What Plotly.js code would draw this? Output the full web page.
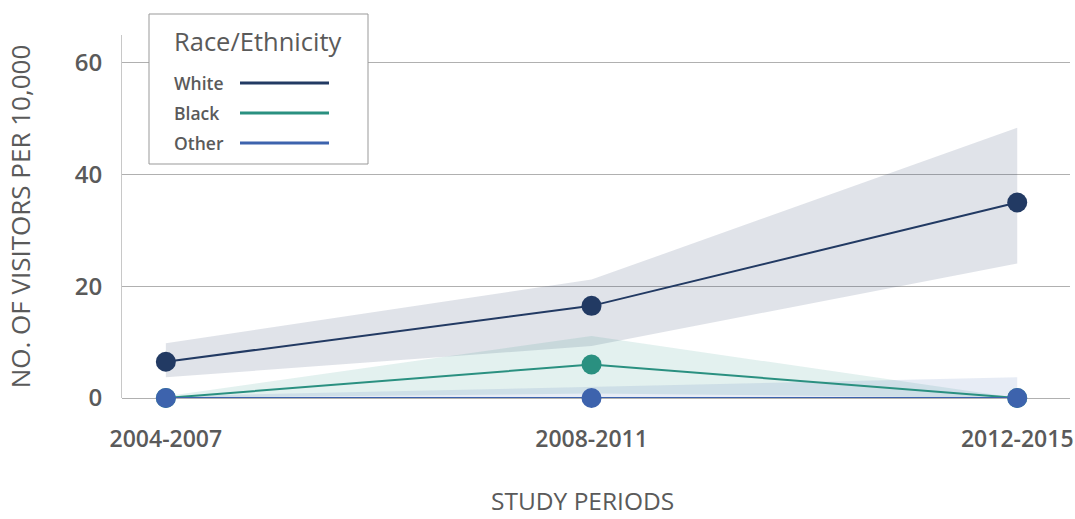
<!DOCTYPE html>
<html><head><meta charset="utf-8">
<script src="https://cdn.plot.ly/plotly-3.0.1.min.js"></script>
<style>html,body{margin:0;padding:0;background:#fff}#chart{width:1075px;height:519px}</style>
</head><body><div id="chart"></div>
<script>
const periods = ["2004-2007", "2008-2011", "2012-2015"];
const seriesNames = ["White", "Black", "Other"];
const whiteVals = [6.5, 16.5, 35];
const whiteLow = [3.7, 9.3, 24.1];
const whiteHigh = [9.8, 21.2, 48.4];
const blackVals = [0, 6, 0];
const blackLow = [0, 0.8, 0];
const blackHigh = [0.3, 11.1, 0];
const otherVals = [0, 0, 0];
const otherLow = [0, 0, 0];
const otherHigh = [0.3, 2.0, 3.7];
const yTicks = [0, 20, 40, 60];

const lineColors = ["#223a63", "#2a9080", "#3d63ad"];
const bandColors = ["rgba(34,58,99,0.14)", "rgba(42,144,128,0.13)", "rgba(61,99,173,0.12)"];
const xIdx = periods.map((_, i) => i);
const FONT = '"Open Sans", sans-serif';

const data = [];
const groups = [
  [whiteVals, whiteLow, whiteHigh],
  [blackVals, blackLow, blackHigh],
  [otherVals, otherLow, otherHigh]
];
groups.forEach((g, k) => {
  data.push({x: xIdx, y: g[1], mode: 'lines', line: {width: 0}, hoverinfo: 'skip', showlegend: false, cliponaxis: false});
  data.push({x: xIdx, y: g[2], mode: 'lines', line: {width: 0}, fill: 'tonexty', fillcolor: bandColors[k], hoverinfo: 'skip', showlegend: false, cliponaxis: false});
});
[0, 1, 2].forEach(k => {
  data.push({x: xIdx, y: groups[k][0], name: seriesNames[k], mode: 'lines+markers',
    line: {color: lineColors[k], width: 2}, marker: {color: lineColors[k], size: 20},
    showlegend: false, cliponaxis: false});
});

const L = 122, R = 1070, T = 35, B = 398;
const px = X => (X - L) / (R - L);
const py = Y => (B - Y) / (B - T);

const shapes = [
  {type: 'rect', xref: 'paper', yref: 'paper', x0: px(149), x1: px(368), y0: py(164), y1: py(14),
   line: {color: '#999', width: 1}, fillcolor: '#fff', layer: 'above'}
];
const annotations = [
  {xref: 'paper', yref: 'paper', x: px(172), y: py(41), xanchor: 'left', yanchor: 'middle', showarrow: false,
   text: 'Race/Ethnicity', font: {family: FONT, size: 25.5, color: '#5a5a5a', weight: 500}},
  {xref: 'paper', yref: 'paper', x: px(582), y: py(500), xanchor: 'center', yanchor: 'middle', showarrow: false, borderpad: 0,
   text: 'STUDY PERIODS', font: {family: FONT, size: 24.5, color: '#5a5a5a', weight: 500}}
];
const itemY = [83, 113, 143];
seriesNames.forEach((n, k) => {
  annotations.push({xref: 'paper', yref: 'paper', x: px(172), y: py(itemY[k]), xanchor: 'left', yanchor: 'middle', showarrow: false,
    text: n, font: {family: FONT, size: 17.5, color: '#5a5a5a', weight: 600}});
  shapes.push({type: 'line', xref: 'paper', yref: 'paper', x0: px(240), x1: px(329), y0: py(itemY[k]), y1: py(itemY[k]),
    line: {color: lineColors[k], width: 3}, layer: 'above'});
});

const layout = {
  width: 1075, height: 519,
  margin: {l: L, r: 1075 - R, t: T, b: 519 - B},
  paper_bgcolor: '#fff', plot_bgcolor: '#fff',
  showlegend: false,
  font: {family: FONT, color: '#5a5a5a'},
  xaxis: {range: [-0.103, 2.124], tickvals: xIdx, ticktext: periods, showgrid: false, zeroline: false,
    showline: false, ticks: 'outside', ticklen: 20, tickcolor: 'rgba(0,0,0,0)', ticklabeloverflow: 'allow',
    tickfont: {family: FONT, size: 23, color: '#5a5a5a', weight: 600}},
  yaxis: {range: [0, 65], tickvals: yTicks, showgrid: true, gridcolor: '#b0b0b0', gridwidth: 1,
    zeroline: true, zerolinecolor: '#b0b0b0', zerolinewidth: 1,
    showline: true, linecolor: '#c8c8c8', linewidth: 1,
    ticks: 'outside', ticklen: 14, tickcolor: 'rgba(0,0,0,0)',
    tickfont: {family: FONT, size: 24, color: '#5a5a5a', weight: 600},
    title: {text: 'NO. OF VISITORS PER 10,000', font: {family: FONT, size: 26, color: '#5a5a5a', weight: 500}, standoff: 36}},
  shapes: shapes,
  annotations: annotations
};
Plotly.newPlot('chart', data, layout, {staticPlot: true, displayModeBar: false});
</script></body></html>
